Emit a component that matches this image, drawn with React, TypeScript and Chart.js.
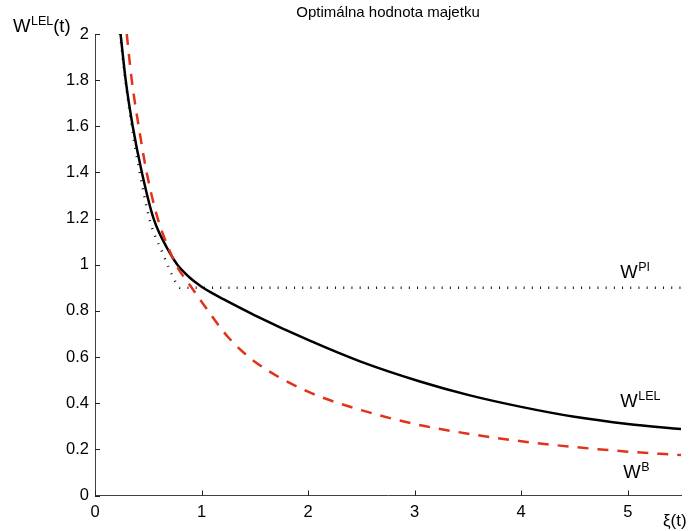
import React, { useEffect, useRef } from "react";
import { Chart, registerables } from "chart.js";

Chart.register(...registerables);

// ---- data ----
const xiTicks = [0, 1, 2, 3, 4, 5];
const xiTickLabels = ["0", "1", "2", "3", "4", "5"];
const wTicks = [0, 0.2, 0.4, 0.6, 0.8, 1, 1.2, 1.4, 1.6, 1.8, 2];
const wTickLabels = ["0", "0.2", "0.4", "0.6", "0.8", "1", "1.2", "1.4", "1.6", "1.8", "2"];

// W^LEL (solid black)
const lelXi = [0.24, 0.288, 0.354, 0.44, 0.55, 0.704, 0.773, 0.88, 0.94, 1.0, 1.1, 1.2, 1.5, 2.0, 2.5, 3.05, 3.5, 4.0, 4.5, 5.0, 5.5];
const lelW = [2.0, 1.8, 1.6, 1.4, 1.2, 1.05, 1.0, 0.948, 0.925, 0.905, 0.877, 0.852, 0.781, 0.674, 0.579, 0.494, 0.436, 0.384, 0.341, 0.31, 0.288];

// W^B (dashed red)
const bXi = [0.298, 0.345, 0.41, 0.485, 0.589, 0.67, 0.76, 0.89, 1.0, 1.25, 1.5, 2.0, 2.5, 3.0, 3.5, 4.0, 4.5, 5.0, 5.5];
const bW = [2.0, 1.8, 1.6, 1.4, 1.2, 1.095, 1.0, 0.912, 0.84, 0.686, 0.58, 0.45, 0.37, 0.31, 0.268, 0.235, 0.21, 0.19, 0.175];

// W^PI (dotted)
const piXi = [0.235, 0.285, 0.345, 0.42, 0.516, 0.635, 0.72, 0.8, 5.5];
const piW = [2.0, 1.8, 1.6, 1.4, 1.19, 1.05, 0.96, 0.9, 0.9];

const titleText = "Optimálna hodnota majetku";
const yTitle = { base: "W", sup: "LEL", after: "(t)" };
const xTitle = "ξ(t)";
const seriesNames = [
  { base: "W", sup: "PI", xi: 4.93, w: 0.943 },
  { base: "W", sup: "LEL", xi: 4.93, w: 0.384 },
  { base: "W", sup: "B", xi: 4.958, w: 0.076 },
];

const FONT = '"Liberation Sans", Arial, Helvetica, sans-serif';

function drawSup(ctx: CanvasRenderingContext2D, x: number, y: number, base: string, sup: string, after: string, size: number, supSize: number, rise: number) {
  ctx.textAlign = "left";
  ctx.textBaseline = "alphabetic";
  ctx.font = `${size}px ${FONT}`;
  ctx.fillText(base, x, y);
  let w = ctx.measureText(base).width;
  ctx.font = `${supSize}px ${FONT}`;
  ctx.fillText(sup, x + w + 0.5, y - rise);
  w += ctx.measureText(sup).width + 0.5;
  if (after) {
    ctx.font = `${size}px ${FONT}`;
    ctx.fillText(after, x + w, y);
  }
}

const textPlugin = {
  id: "texts",
  afterDraw(chart: any) {
    const ctx: CanvasRenderingContext2D = chart.ctx;
    const { left, right, bottom } = chart.chartArea;
    const xs = chart.scales.x;
    const ys = chart.scales.y;
    ctx.save();
    // inward ticks
    ctx.strokeStyle = "#202020";
    ctx.lineWidth = 1;
    ctx.beginPath();
    xiTicks.forEach((v) => {
      const px = Math.round(xs.getPixelForValue(v)) + 0.5;
      ctx.moveTo(px, bottom);
      ctx.lineTo(px, bottom - 5);
    });
    wTicks.forEach((v) => {
      const py = Math.round(ys.getPixelForValue(v)) + 0.5;
      ctx.moveTo(left, py);
      ctx.lineTo(left + 5, py);
    });
    ctx.stroke();

    ctx.fillStyle = "#000";
    // title
    ctx.font = `15px ${FONT}`;
    ctx.textAlign = "center";
    ctx.textBaseline = "alphabetic";
    ctx.fillText(titleText, (left + right) / 2, 17);
    // y title
    drawSup(ctx, 13, 32, yTitle.base, yTitle.sup, yTitle.after, 18.5, 12.5, 7);
    // x title
    ctx.font = `17px ${FONT}`;
    ctx.textAlign = "left";
    ctx.fillText(xTitle, 663, 526);
    // series names
    seriesNames.forEach((s) => {
      drawSup(ctx, xs.getPixelForValue(s.xi), ys.getPixelForValue(s.w), s.base, s.sup, "", 18.5, 12.5, 7);
    });
    ctx.restore();
  },
};

export default function App() {
  const ref = useRef<HTMLCanvasElement | null>(null);
  useEffect(() => {
    if (!ref.current) return;
    const chart = new Chart(ref.current, {
      type: "line",
      data: {
        datasets: [
          {
            label: "W^B",
            data: bXi.map((x, i) => ({ x, y: bW[i] })),
            borderColor: "#e0341a",
            borderWidth: 2.5,
            borderDash: [11, 9],
            pointRadius: 0,
            cubicInterpolationMode: "monotone",
            fill: false,
          },
          {
            label: "W^LEL",
            data: lelXi.map((x, i) => ({ x, y: lelW[i] })),
            borderColor: "#000",
            borderWidth: 2.5,
            pointRadius: 0,
            cubicInterpolationMode: "monotone",
            fill: false,
          },
          {
            label: "W^PI",
            data: piXi.map((x, i) => ({ x, y: piW[i] })),
            borderColor: "#111",
            borderWidth: 2.5,
            borderDash: [1, 7.2],
            pointRadius: 0,
            cubicInterpolationMode: "monotone",
            fill: false,
          },
        ],
      } as any,
      options: {
        responsive: false,
        animation: false,
        layout: { padding: { left: 0, right: 8, top: 34, bottom: 0 } },
        plugins: {
          legend: { display: false },
          title: { display: false },
          tooltip: { enabled: false },
        },
        scales: {
          x: {
            type: "linear",
            min: 0,
            max: 5.5,
            grid: { display: false, drawTicks: false },
            border: { display: true, color: "#404040", width: 1 },
            ticks: {
              color: "#000",
              font: { family: FONT, size: 16.5 },
              padding: 7,
              maxRotation: 0,
              autoSkip: false,
              callback: (v: any) => {
                const i = xiTicks.indexOf(Number(v));
                return i >= 0 ? xiTickLabels[i] : "";
              },
            },
            afterBuildTicks: (s: any) => {
              s.ticks = xiTicks.map((v) => ({ value: v }));
            },
            afterFit: (s: any) => {
              s.height = 35.5;
            },
          },
          y: {
            type: "linear",
            min: 0,
            max: 2,
            grid: { display: false, drawTicks: false },
            border: { display: true, color: "#404040", width: 1 },
            ticks: {
              color: "#000",
              font: { family: FONT, size: 16.5 },
              padding: 6,
              autoSkip: false,
              callback: (v: any) => {
                const i = wTicks.findIndex((t) => Math.abs(t - Number(v)) < 1e-9);
                return i >= 0 ? wTickLabels[i] : "";
              },
            },
            afterBuildTicks: (s: any) => {
              s.ticks = wTicks.map((v) => ({ value: v }));
            },
            afterFit: (s: any) => {
              s.width = 95;
            },
          },
        },
      } as any,
      plugins: [textPlugin],
    });
    return () => chart.destroy();
  }, []);

  return (
    <div style={{ position: "fixed", left: 0, top: 0, width: 689, height: 531, background: "#fff" }}>
      <canvas ref={ref} width={689} height={531} style={{ display: "block" }} />
    </div>
  );
}
